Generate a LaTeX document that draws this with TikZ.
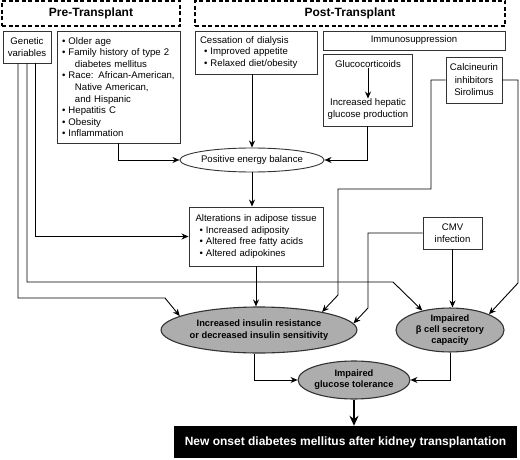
\documentclass[tikz,border=0pt]{standalone}
\usepackage{fontspec}
\setmainfont{Liberation Sans}
\usetikzlibrary{shapes.geometric,arrows.meta}
\newcommand{\itm}[1]{\makebox[6.5pt][l]{•}#1}
\begin{document}
\begin{tikzpicture}[x=1pt,y=-1pt,
 every node/.style={font=\fontsize{9.6}{11.6}\selectfont},
 box/.style={draw=black!80, line width=0.9pt, rectangle, inner sep=0pt, align=center},
 lbox/.style={box, align=left},
 hdr/.style={draw=black, line width=1.2pt, dash pattern=on 4pt off 2.5pt, rectangle, inner sep=0pt, font=\fontsize{12}{14}\selectfont\bfseries},
 ell/.style={draw=black!80, line width=0.9pt, ellipse, inner sep=0pt, align=center},
 gell/.style={ell, line width=1.1pt, fill=black!32, font=\fontsize{9.3}{11.2}\selectfont\bfseries},
 arr/.style={line width=0.9pt, -{Stealth[length=7pt,width=6pt]}},
 bigarr/.style={line width=2pt, -{Stealth[length=10pt,width=9pt]}},
 plain/.style={inner sep=0pt, align=center}
]
\useasboundingbox (0,0) rectangle (520,460);

% headers
\node[hdr, minimum width=178pt, minimum height=25pt] (pre) at (91,13.5) {Pre-Transplant};
\node[hdr, minimum width=310pt, minimum height=25pt] (post) at (350,13.5) {Post-Transplant};

% boxes
\node[box, minimum width=48pt, minimum height=32pt] (gen) at (27,47) {Genetic\\variables};
\node[lbox, minimum width=123pt, minimum height=112pt, text width=113pt, inner xsep=5pt] (risk) at (118.5,87) {%
\itm{Older age}\\
\itm{Family history of type 2}\\
\hspace*{13pt}diabetes mellitus\\
\itm{Race: African-American,}\\
\hspace*{13pt}Native American,\\
\hspace*{13pt}and Hispanic\\
\itm{Hepatitis C}\\
\itm{Obesity}\\
\itm{Inflammation}};
\node[lbox, minimum width=122pt, minimum height=43pt, text width=112pt, inner xsep=5pt] (cess) at (256,52.5) {%
Cessation of dialysis\\
\hspace*{4pt}\itm{Improved appetite}\\
\hspace*{4pt}\itm{Relaxed diet/obesity}};
\node[box, minimum width=182pt, minimum height=19pt] (immuno) at (414,40.5) {Immunosuppression};
\node[box, minimum width=89pt, minimum height=72pt] (gluco) at (367.5,90) {};
\node[plain] (gc1) at (368,64) {Glucocorticoids};
\node[plain] (gc2) at (368,109) {Increased hepatic\\glucose production};
\node[box, minimum width=56pt, minimum height=46pt, font=\fontsize{9.6}{12.5}\selectfont] (calc) at (474,80) {Calcineurin\\inhibitors\\Sirolimus};

\node[ell, minimum width=136pt, minimum height=24pt] (peb) at (252,160) {Positive energy balance};

\node[lbox, minimum width=134pt, minimum height=59pt, text width=127pt, inner xsep=3.5pt] (adip) at (256,236.5) {%
\hspace*{3pt}Alterations in adipose tissue\\
\hspace*{7pt}\itm{Increased adiposity}\\
\hspace*{7pt}\itm{Altered free fatty acids}\\
\hspace*{7pt}\itm{Altered adipokines}};
\node[box, minimum width=59pt, minimum height=32pt] (cmv) at (452.5,233) {CMV\\infection};

\node[gell, minimum width=182pt, minimum height=46pt] (ins) at (259,330) {Increased insulin resistance\\or decreased insulin sensitivity};
\node[gell, minimum width=108pt, minimum height=40pt] (beta) at (450,330) {Impaired\\β cell secretory\\capacity};
\node[gell, minimum width=106pt, minimum height=38pt] (igt) at (354,380) {Impaired\\glucose tolerance};

\node[rectangle, fill=black, inner sep=0pt, minimum width=343pt, minimum height=32pt, text=white, font=\fontsize{12}{14}\selectfont\bfseries] (nod) at (345.5,442) {New onset diabetes mellitus after kidney transplantation};

% connectors
\draw[arr] (gc1.south) -- (gc2.north);
\draw[arr] (risk.south) |- (peb.west);
\draw[arr] (cess.south -| peb.north) -- (peb.north);
\draw[arr] (gluco.south) |- (peb.east);
\draw[arr] (peb.south) -- (peb.south |- adip.north);
\draw[arr] (adip.south) -- (adip.south |- ins.north);

\draw[arr] ([xshift=8pt]gen.south) |- (adip.west);
\draw[arr] (gen.south) |- (393,282) -- (beta.145);
\draw[arr] ([xshift=-9pt]gen.south) |- (165,298) -- (ins.170);

\draw[arr] (calc.west) -| (431,189) -| (338,295) -- (ins.16);
\draw[arr] (calc.east) -| (518,283) -- (beta.22);

\draw[arr] (cmv.west) -| (368,308) -- (ins.4);
\draw[arr] (cmv.south) -- (cmv.south |- beta.north);

\draw[arr] ([xshift=-5pt]ins.south) |- (igt.west);
\draw[arr] (beta.south) |- (igt.east);
\draw[bigarr] (igt.south) -- (igt.south |- nod.north);
\end{tikzpicture}
\end{document}
